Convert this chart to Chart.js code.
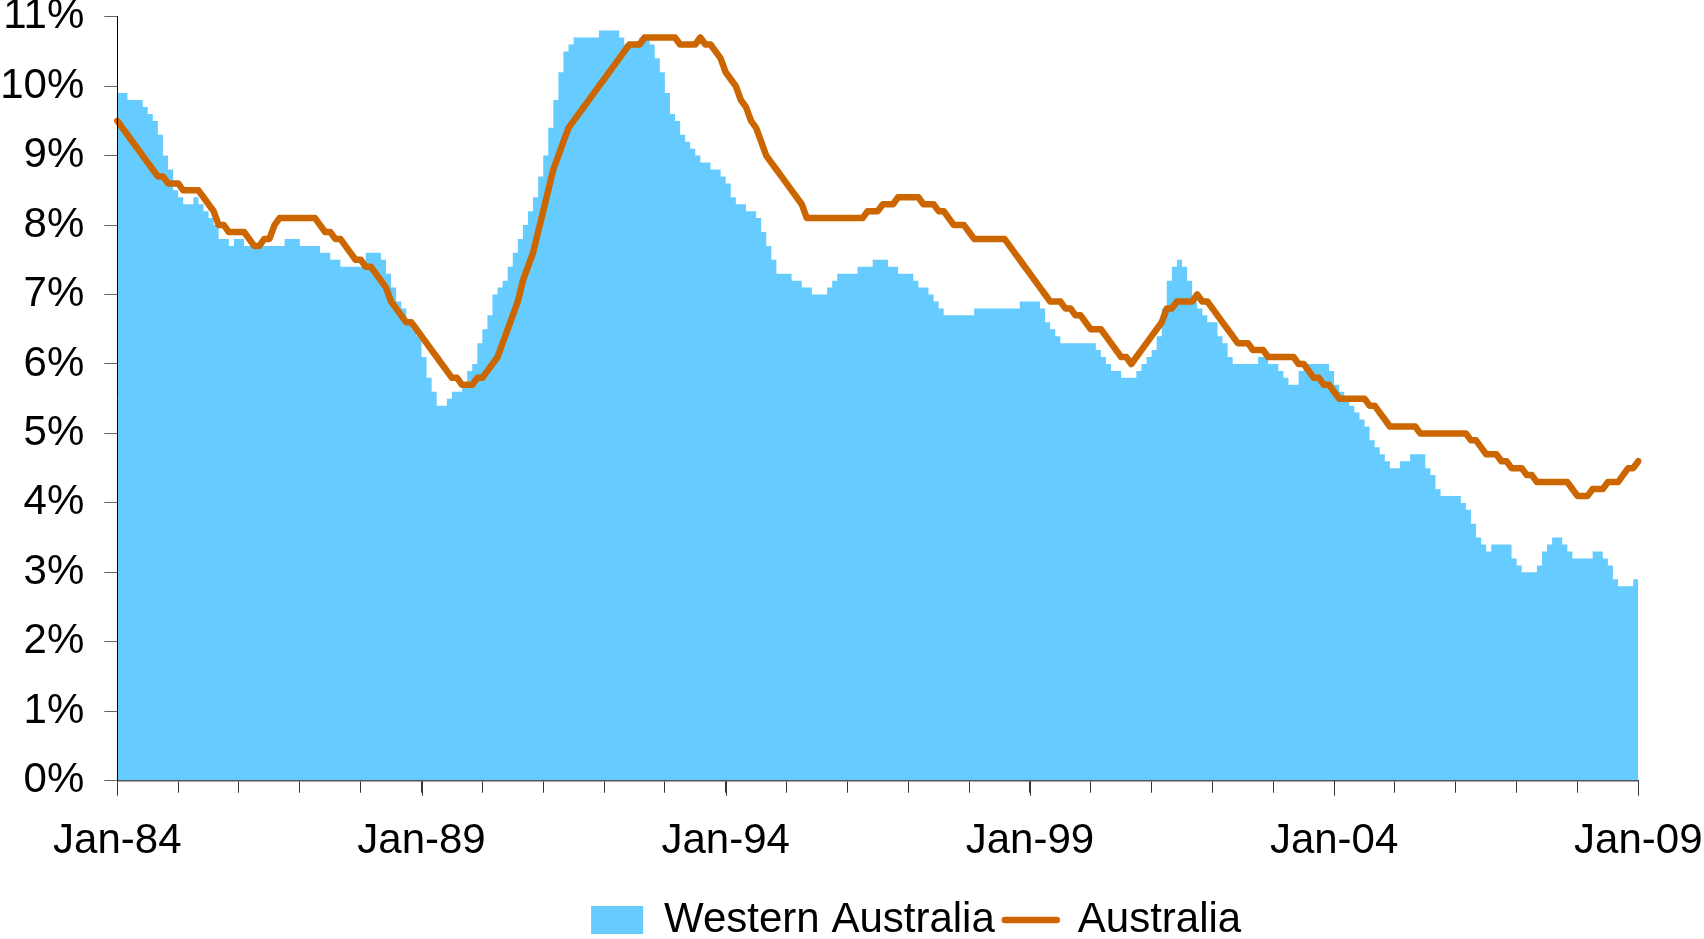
<!DOCTYPE html>
<html>
<head>
<meta charset="utf-8">
<script src="https://cdn.jsdelivr.net/npm/chart.js@4.4.1/dist/chart.umd.min.js"></script>
<style>
  html, body { margin: 0; padding: 0; background: #ffffff; }
  #wrap { width: 1704px; height: 939px; }
</style>
</head>
<body>
<div id="wrap"><canvas id="chart" width="1704" height="939"></canvas></div>
<script>
// ---------- data ----------
const monthNames = ['Jan','Feb','Mar','Apr','May','Jun','Jul','Aug','Sep','Oct','Nov','Dec'];
const yearLabels = ['84','85','86','87','88','89','90','91','92','93','94','95','96','97','98','99','00','01','02','03','04','05','06','07','08','09'];
const xTickLabels = ['Jan-84','Jan-89','Jan-94','Jan-99','Jan-04','Jan-09'];
const yTickValues = [0,1,2,3,4,5,6,7,8,9,10,11];

// Western Australia unemployment rate (%), monthly Jan-84 .. Jan-09
const westernAustralia = [
  9.9, 9.9, 9.8, 9.8, 9.8, 9.7, 9.6, 9.5, 9.3, 9.0, 8.8, 8.5,
  8.4, 8.3, 8.3, 8.4, 8.3, 8.2, 8.1, 8.0, 7.8, 7.8, 7.7, 7.8,
  7.8, 7.7, 7.7, 7.7, 7.7, 7.7, 7.7, 7.7, 7.7, 7.8, 7.8, 7.8,
  7.7, 7.7, 7.7, 7.7, 7.6, 7.6, 7.5, 7.5, 7.4, 7.4, 7.4, 7.4,
  7.4, 7.6, 7.6, 7.6, 7.5, 7.3, 7.1, 6.9, 6.8, 6.6, 6.5, 6.4,
  6.1, 5.8, 5.6, 5.4, 5.4, 5.5, 5.6, 5.6, 5.7, 5.9, 6.0, 6.3,
  6.5, 6.7, 7.0, 7.1, 7.2, 7.4, 7.6, 7.8, 8.0, 8.2, 8.4, 8.7,
  9.0, 9.4, 9.8, 10.2, 10.5, 10.6, 10.7, 10.7, 10.7, 10.7, 10.7, 10.8,
  10.8, 10.8, 10.8, 10.7, 10.6, 10.6, 10.6, 10.7, 10.7, 10.6, 10.4, 10.2,
  9.9, 9.6, 9.5, 9.3, 9.2, 9.1, 9.0, 8.9, 8.9, 8.8, 8.8, 8.7,
  8.6, 8.4, 8.3, 8.3, 8.2, 8.2, 8.1, 7.9, 7.7, 7.5, 7.3, 7.3,
  7.3, 7.2, 7.2, 7.1, 7.1, 7.0, 7.0, 7.0, 7.1, 7.2, 7.3, 7.3,
  7.3, 7.3, 7.4, 7.4, 7.4, 7.5, 7.5, 7.5, 7.4, 7.4, 7.3, 7.3,
  7.3, 7.2, 7.1, 7.1, 7.0, 6.9, 6.8, 6.7, 6.7, 6.7, 6.7, 6.7,
  6.7, 6.8, 6.8, 6.8, 6.8, 6.8, 6.8, 6.8, 6.8, 6.8, 6.9, 6.9,
  6.9, 6.9, 6.8, 6.6, 6.5, 6.4, 6.3, 6.3, 6.3, 6.3, 6.3, 6.3,
  6.3, 6.2, 6.1, 6.0, 5.9, 5.9, 5.8, 5.8, 5.8, 5.9, 6.0, 6.1,
  6.2, 6.4, 6.8, 7.2, 7.4, 7.5, 7.4, 7.2, 6.9, 6.8, 6.7, 6.6,
  6.6, 6.4, 6.3, 6.1, 6.0, 6.0, 6.0, 6.0, 6.0, 6.1, 6.1, 6.0,
  6.0, 5.9, 5.8, 5.7, 5.7, 5.9, 6.0, 6.0, 6.0, 6.0, 6.0, 5.9,
  5.7, 5.6, 5.5, 5.4, 5.3, 5.2, 5.1, 4.9, 4.8, 4.7, 4.6, 4.5,
  4.5, 4.6, 4.6, 4.7, 4.7, 4.7, 4.5, 4.4, 4.2, 4.1, 4.1, 4.1,
  4.1, 4.0, 3.9, 3.7, 3.5, 3.4, 3.3, 3.4, 3.4, 3.4, 3.4, 3.2,
  3.1, 3.0, 3.0, 3.0, 3.1, 3.3, 3.4, 3.5, 3.5, 3.4, 3.3, 3.2,
  3.2, 3.2, 3.2, 3.3, 3.3, 3.2, 3.1, 2.9, 2.8, 2.8, 2.8, 2.9,
  3.0
];

// Australia unemployment rate (%), monthly Jan-84 .. Jan-09
const australia = [
  9.5, 9.4, 9.3, 9.2, 9.1, 9.0, 8.9, 8.8, 8.7, 8.7, 8.6, 8.6,
  8.6, 8.5, 8.5, 8.5, 8.5, 8.4, 8.3, 8.2, 8.0, 8.0, 7.9, 7.9,
  7.9, 7.9, 7.8, 7.7, 7.7, 7.8, 7.8, 8.0, 8.1, 8.1, 8.1, 8.1,
  8.1, 8.1, 8.1, 8.1, 8.0, 7.9, 7.9, 7.8, 7.8, 7.7, 7.6, 7.5,
  7.5, 7.4, 7.4, 7.3, 7.2, 7.1, 6.9, 6.8, 6.7, 6.6, 6.6, 6.5,
  6.4, 6.3, 6.2, 6.1, 6.0, 5.9, 5.8, 5.8, 5.7, 5.7, 5.7, 5.8,
  5.8, 5.9, 6.0, 6.1, 6.3, 6.5, 6.7, 6.9, 7.2, 7.4, 7.6, 7.9,
  8.2, 8.5, 8.8, 9.0, 9.2, 9.4, 9.5, 9.6, 9.7, 9.8, 9.9, 10.0,
  10.1, 10.2, 10.3, 10.4, 10.5, 10.6, 10.6, 10.6, 10.7, 10.7, 10.7, 10.7,
  10.7, 10.7, 10.7, 10.6, 10.6, 10.6, 10.6, 10.7, 10.6, 10.6, 10.5, 10.4,
  10.2, 10.1, 10.0, 9.8, 9.7, 9.5, 9.4, 9.2, 9.0, 8.9, 8.8, 8.7,
  8.6, 8.5, 8.4, 8.3, 8.1, 8.1, 8.1, 8.1, 8.1, 8.1, 8.1, 8.1,
  8.1, 8.1, 8.1, 8.1, 8.2, 8.2, 8.2, 8.3, 8.3, 8.3, 8.4, 8.4,
  8.4, 8.4, 8.4, 8.3, 8.3, 8.3, 8.2, 8.2, 8.1, 8.0, 8.0, 8.0,
  7.9, 7.8, 7.8, 7.8, 7.8, 7.8, 7.8, 7.8, 7.7, 7.6, 7.5, 7.4,
  7.3, 7.2, 7.1, 7.0, 6.9, 6.9, 6.9, 6.8, 6.8, 6.7, 6.7, 6.6,
  6.5, 6.5, 6.5, 6.4, 6.3, 6.2, 6.1, 6.1, 6.0, 6.1, 6.2, 6.3,
  6.4, 6.5, 6.6, 6.8, 6.8, 6.9, 6.9, 6.9, 6.9, 7.0, 6.9, 6.9,
  6.8, 6.7, 6.6, 6.5, 6.4, 6.3, 6.3, 6.3, 6.2, 6.2, 6.2, 6.1,
  6.1, 6.1, 6.1, 6.1, 6.1, 6.0, 6.0, 5.9, 5.8, 5.8, 5.7, 5.7,
  5.6, 5.5, 5.5, 5.5, 5.5, 5.5, 5.5, 5.4, 5.4, 5.3, 5.2, 5.1,
  5.1, 5.1, 5.1, 5.1, 5.1, 5.0, 5.0, 5.0, 5.0, 5.0, 5.0, 5.0,
  5.0, 5.0, 5.0, 4.9, 4.9, 4.8, 4.7, 4.7, 4.7, 4.6, 4.6, 4.5,
  4.5, 4.5, 4.4, 4.4, 4.3, 4.3, 4.3, 4.3, 4.3, 4.3, 4.3, 4.2,
  4.1, 4.1, 4.1, 4.2, 4.2, 4.2, 4.3, 4.3, 4.3, 4.4, 4.5, 4.5,
  4.6
];

// month categories built from the names above (Jan-84 ... Jan-09)
const categories = [];
yearLabels.forEach(y => monthNames.forEach(m => {
  if (categories.length < westernAustralia.length) categories.push(m + '-' + y);
}));

// ---------- styling ----------
const WA_COLOR = '#66CCFF';
const AUS_COLOR = '#CC6600';
const FONT = "'Liberation Sans', Arial, sans-serif";

Chart.defaults.font.family = FONT;
Chart.defaults.font.size = 42;
Chart.defaults.color = '#000000';

const longTicks = {
  id: 'longTicks',
  afterDraw(chart) {
    const s = chart.scales.x, ctx = chart.ctx;
    ctx.save();
    ctx.strokeStyle = '#333333';
    ctx.lineWidth = 1;
    categories.forEach((c, i) => {
      if (xTickLabels.includes(c)) {
        const x = Math.round(s.getPixelForValue(i)) + 0.5;
        ctx.beginPath();
        ctx.moveTo(x, s.top);
        ctx.lineTo(x, s.top + 15);
        ctx.stroke();
      }
    });
    ctx.restore();
  }
};

const legendShift = {
  id: 'legendShift',
  afterLayout(chart) {
    const l = chart.legend;
    if (!l) return;
    l.left += 97; l.right += 97;
    l.top += 12; l.bottom += 12;
  }
};

function zeroPadding(scale) {
  scale.paddingTop = 0; scale.paddingBottom = 0;
  scale.paddingLeft = 0; scale.paddingRight = 0;
}

new Chart(document.getElementById('chart'), {
  type: 'line',
  data: {
    labels: categories,
    datasets: [
      {
        label: 'Western Australia',
        data: westernAustralia,
        stepped: true,
        fill: 'origin',
        backgroundColor: WA_COLOR,
        borderColor: 'rgba(0,0,0,0)',
        borderWidth: 0,
        pointRadius: 0,
        order: 2
      },
      {
        label: 'Australia',
        data: australia,
        fill: false,
        borderColor: AUS_COLOR,
        backgroundColor: AUS_COLOR,
        borderWidth: 6.5,
        borderJoinStyle: 'round',
        borderCapStyle: 'round',
        pointRadius: 0,
        tension: 0,
        order: 1
      }
    ]
  },
  options: {
    responsive: false,
    devicePixelRatio: 1,
    animation: false,
    events: [],
    layout: { padding: { left: 0, top: 16.7, right: 65.7, bottom: 0 } },
    plugins: {
      tooltip: { enabled: false },
      legend: {
        position: 'bottom',
        align: 'center',
        labels: {
          usePointStyle: true,
          pointStyleWidth: 52,
          boxHeight: 28,
          padding: 10,
          color: '#000000',
          font: { size: 42, family: FONT },
          generateLabels: () => [
            { text: 'Western Australia', fillStyle: WA_COLOR, strokeStyle: WA_COLOR, lineWidth: 0, pointStyle: 'rect', datasetIndex: 0, hidden: false },
            { text: 'Australia', fillStyle: AUS_COLOR, strokeStyle: AUS_COLOR, lineWidth: 6.5, lineCap: 'round', pointStyle: 'line', datasetIndex: 1, hidden: false }
          ]
        }
      }
    },
    scales: {
      x: {
        type: 'category',
        offset: false,
        afterFit(scale) { scale.height = 96.3; zeroPadding(scale); },
        grid: {
          display: true,
          drawOnChartArea: false,
          drawTicks: true,
          tickLength: 12,
          tickColor: (ctx) => (categories[ctx.index] || '').startsWith('Jan') ? '#333333' : 'rgba(0,0,0,0)'
        },
        border: { display: true, color: '#555555', width: 1.5, z: 1 },
        ticks: {
          autoSkip: false,
          maxRotation: 0,
          minRotation: 0,
          padding: 24,
          font: { size: 42, family: FONT },
          color: '#000000',
          callback: (value, index) => xTickLabels.includes(categories[index]) ? categories[index] : ''
        }
      },
      y: {
        type: 'linear',
        min: yTickValues[0],
        max: yTickValues[yTickValues.length - 1],
        afterFit(scale) { scale.width = 117.3; zeroPadding(scale); },
        afterBuildTicks(scale) { scale.ticks = yTickValues.map(v => ({ value: v })); },
        grid: {
          display: true,
          drawOnChartArea: false,
          drawTicks: true,
          tickLength: 13,
          tickColor: '#666666'
        },
        border: { display: true, color: '#000000', width: 1, z: 1 },
        ticks: {
          padding: 20,
          font: { size: 42, family: FONT },
          color: '#000000',
          callback: (v) => v + '%'
        }
      }
    }
  },
  plugins: [longTicks, legendShift]
});
</script>
</body>
</html>
